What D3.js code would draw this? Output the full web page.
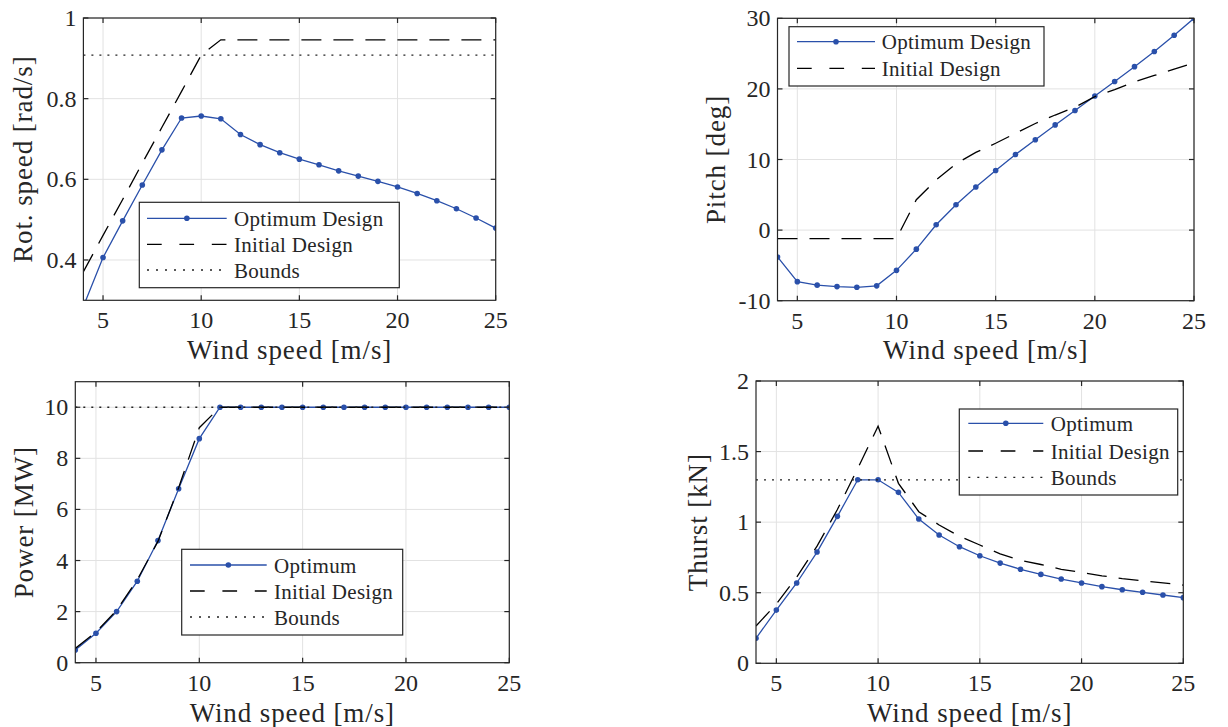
<!DOCTYPE html>
<html>
<head>
<meta charset="utf-8">
<script src="https://cdn.jsdelivr.net/npm/d3@7"></script>
<style>
  html, body { margin: 0; padding: 0; background: #ffffff; }
  svg { display: block; }
  text { font-family: "Liberation Serif"; }
</style>
</head>
<body>
<svg id="chart" width="1228" height="727"></svg>
<script>
// ---------------- data ----------------
const windSpeed = [4, 5, 6, 7, 8, 9, 10, 11, 12, 13, 14, 15, 16, 17, 18, 19, 20, 21, 22, 23, 24, 25];
const xTicks = [5, 10, 15, 20, 25];

const rotOptimum = [0.285, 0.406, 0.497, 0.586, 0.673, 0.752, 0.757, 0.750, 0.711, 0.686, 0.666, 0.650, 0.636, 0.621, 0.608, 0.595, 0.581, 0.565, 0.547, 0.527, 0.504, 0.479];
const rotInitial = [0.371, 0.461, 0.550, 0.640, 0.729, 0.818, 0.908, 0.946, 0.946, 0.946, 0.946, 0.946, 0.946, 0.946, 0.946, 0.946, 0.946, 0.946, 0.946, 0.946, 0.946, 0.946];
const rotBound = 0.908;
const rotTicks = [0.4, 0.6, 0.8, 1];

const pitchOptimum = [-3.8, -7.3, -7.8, -8.0, -8.1, -7.9, -5.7, -2.7, 0.75, 3.6, 6.1, 8.45, 10.7, 12.8, 14.9, 16.95, 19.0, 21.05, 23.15, 25.3, 27.6, 30.0];
const pitchInitial = [-1.2, -1.2, -1.2, -1.2, -1.2, -1.2, -1.2, 4.3, 7.1, 9.4, 11.0, 12.3, 13.7, 15.1, 16.3, 17.4, 18.9, 19.9, 21.0, 21.9, 22.8, 23.7];
const pitchTicks = [-10, 0, 10, 20, 30];

const powerOptimum = [0.5, 1.15, 2.0, 3.19, 4.78, 6.81, 8.77, 10, 10, 10, 10, 10, 10, 10, 10, 10, 10, 10, 10, 10, 10, 10];
const powerInitial = [0.56, 1.2, 2.05, 3.25, 4.75, 6.85, 9.2, 10, 10, 10, 10, 10, 10, 10, 10, 10, 10, 10, 10, 10, 10, 10];
const powerBound = 10;
const powerTicks = [0, 2, 4, 6, 8, 10];

const thrustOptimum = [0.177, 0.377, 0.569, 0.788, 1.041, 1.30, 1.30, 1.211, 1.022, 0.909, 0.826, 0.762, 0.710, 0.666, 0.630, 0.597, 0.569, 0.543, 0.521, 0.503, 0.484, 0.465];
const thrustInitial = [0.264, 0.42, 0.61, 0.83, 1.09, 1.38, 1.68, 1.275, 1.074, 0.98, 0.90, 0.838, 0.775, 0.73, 0.70, 0.666, 0.644, 0.62, 0.60, 0.585, 0.57, 0.554];
const thrustBound = 1.3;
const thrustTicks = [0, 0.5, 1, 1.5, 2];

// ---------------- style ----------------
const BLUE = "#2a50aa";
const INK = "#262626";
const GRID = "#e2e2e2";
const FONT = "Liberation Serif";

const svg = d3.select("#chart");
svg.append("rect").attr("width", 1228).attr("height", 727).attr("fill", "#fff");

function panel(cfg) {
  const g = svg.append("g");
  const x = d3.scaleLinear().domain([4, 25]).range([cfg.left, cfg.right]);
  const y = d3.scaleLinear().domain(cfg.yDomain).range([cfg.bottom, cfg.top]);
  const clipId = "clip" + cfg.id;
  svg.append("clipPath").attr("id", clipId).append("rect")
    .attr("x", cfg.left).attr("y", cfg.top)
    .attr("width", cfg.right - cfg.left).attr("height", cfg.bottom - cfg.top);

  // grid
  g.selectAll(".gx").data(xTicks).join("line")
    .attr("x1", d => x(d)).attr("x2", d => x(d))
    .attr("y1", cfg.top).attr("y2", cfg.bottom)
    .attr("stroke", GRID).attr("stroke-width", 1);
  g.selectAll(".gy").data(cfg.yTicks).join("line")
    .attr("x1", cfg.left).attr("x2", cfg.right)
    .attr("y1", d => y(d)).attr("y2", d => y(d))
    .attr("stroke", GRID).attr("stroke-width", 1);

  const plot = g.append("g").attr("clip-path", `url(#${clipId})`);
  const line = d3.line().x((d, i) => x(windSpeed[i])).y(d => y(d));

  plot.append("path").datum(cfg.optimum).attr("d", line)
    .attr("fill", "none").attr("stroke", BLUE).attr("stroke-width", 1.3);
  plot.selectAll(".dot").data(cfg.optimum).join("circle")
    .attr("cx", (d, i) => x(windSpeed[i])).attr("cy", d => y(d))
    .attr("r", 2.8).attr("fill", BLUE);
  plot.append("path").datum(cfg.initial).attr("d", line)
    .attr("fill", "none").attr("stroke", "#000").attr("stroke-width", 1.3)
    .attr("stroke-dasharray", "20 12");
  if (cfg.bound !== undefined) {
    plot.append("line")
      .attr("x1", x(4)).attr("x2", x(25))
      .attr("y1", y(cfg.bound)).attr("y2", y(cfg.bound))
      .attr("stroke", "#222").attr("stroke-width", 1.3)
      .attr("stroke-dasharray", "2 6");
  }

  g.append("rect").attr("x", cfg.left).attr("y", cfg.top)
    .attr("width", cfg.right - cfg.left).attr("height", cfg.bottom - cfg.top)
    .attr("fill", "none").attr("stroke", INK).attr("stroke-width", 1.2);

  const tl = 5;
  xTicks.forEach(t => {
    g.append("line").attr("x1", x(t)).attr("x2", x(t)).attr("y1", cfg.bottom).attr("y2", cfg.bottom - tl).attr("stroke", INK).attr("stroke-width", 1.2);
    g.append("line").attr("x1", x(t)).attr("x2", x(t)).attr("y1", cfg.top).attr("y2", cfg.top + tl).attr("stroke", INK).attr("stroke-width", 1.2);
  });
  cfg.yTicks.forEach(t => {
    g.append("line").attr("x1", cfg.left).attr("x2", cfg.left + tl).attr("y1", y(t)).attr("y2", y(t)).attr("stroke", INK).attr("stroke-width", 1.2);
    g.append("line").attr("x1", cfg.right).attr("x2", cfg.right - tl).attr("y1", y(t)).attr("y2", y(t)).attr("stroke", INK).attr("stroke-width", 1.2);
  });

  g.selectAll(".xl").data(xTicks).join("text")
    .attr("x", d => x(d)).attr("y", cfg.bottom + 28)
    .attr("text-anchor", "middle")
    .style("font-family", FONT).style("font-size", "24px").attr("fill", INK)
    .text(d => d);
  g.selectAll(".yl").data(cfg.yTicks).join("text")
    .attr("x", cfg.left - 7).attr("y", d => y(d) + 8)
    .attr("text-anchor", "end")
    .style("font-family", FONT).style("font-size", "24px").attr("fill", INK)
    .text(d => String(d));

  g.append("text")
    .attr("x", (cfg.left + cfg.right) / 2).attr("y", cfg.xLabelY)
    .attr("text-anchor", "middle")
    .style("font-family", FONT).style("font-size", "27px").style("letter-spacing", "0.9px").attr("fill", INK)
    .text("Wind speed [m/s]");
  g.append("text")
    .attr("transform", `translate(${cfg.yLabelX},${(cfg.top + cfg.bottom) / 2}) rotate(-90)`)
    .attr("text-anchor", "middle")
    .style("font-family", FONT).style("font-size", "27px").style("letter-spacing", "0.9px").attr("fill", INK)
    .text(cfg.yLabel);

  const L = cfg.legend;
  const lg = g.append("g");
  lg.append("rect").attr("x", L.x0).attr("y", L.y0)
    .attr("width", L.x1 - L.x0).attr("height", L.y1 - L.y0)
    .attr("fill", "#fff").attr("stroke", INK).attr("stroke-width", 1.2);
  L.items.forEach((name, i) => {
    const ry = L.rows[i];
    const ln = lg.append("line").attr("x1", L.s0).attr("x2", L.s1).attr("y1", ry).attr("y2", ry);
    if (i === 0) {
      ln.attr("stroke", BLUE).attr("stroke-width", 1.3);
      lg.append("circle").attr("cx", (L.s0 + L.s1) / 2).attr("cy", ry).attr("r", 2.8).attr("fill", BLUE);
    } else if (i === 1) {
      ln.attr("stroke", "#000").attr("stroke-width", 1.3).attr("stroke-dasharray", "14.7 17.7");
    } else {
      ln.attr("stroke", "#222").attr("stroke-width", 1.3).attr("stroke-dasharray", "2 7");
    }
    lg.append("text").attr("x", L.tx).attr("y", ry + 7.5)
      .style("font-family", FONT).style("font-size", "21px").style("letter-spacing", "0.3px").attr("fill", INK)
      .text(name);
  });
}

panel({
  id: 1, left: 83.4, right: 495.7, top: 18, bottom: 300.3,
  yDomain: [0.3, 1], yTicks: rotTicks,
  optimum: rotOptimum, initial: rotInitial, bound: rotBound,
  xLabelY: 358.5, yLabelX: 31.7, yLabel: "Rot. speed [rad/s]",
  legend: { x0: 139.3, x1: 399.3, y0: 202.3, y1: 287.7, s0: 147, s1: 226.7, tx: 234,
            rows: [218.3, 244.3, 270], items: ["Optimum Design", "Initial Design", "Bounds"] }
});

panel({
  id: 2, left: 777.5, right: 1194, top: 18.3, bottom: 300.7,
  yDomain: [-10, 30], yTicks: pitchTicks,
  optimum: pitchOptimum, initial: pitchInitial,
  xLabelY: 358.5, yLabelX: 725, yLabel: "Pitch [deg]",
  legend: { x0: 789, x1: 1044, y0: 26.7, y1: 86, s0: 797, s1: 875, tx: 881.7,
            rows: [41.7, 68.3], items: ["Optimum Design", "Initial Design"] }
});

panel({
  id: 3, left: 75.3, right: 509.3, top: 381.7, bottom: 662.7,
  yDomain: [0, 11], yTicks: powerTicks,
  optimum: powerOptimum, initial: powerInitial, bound: powerBound,
  xLabelY: 722, yLabelX: 32.7, yLabel: "Power [MW]",
  legend: { x0: 181.7, x1: 402.7, y0: 549.3, y1: 635, s0: 190, s1: 266.7, tx: 274,
            rows: [565, 591, 617], items: ["Optimum", "Initial Design", "Bounds"] }
});

panel({
  id: 4, left: 756, right: 1183.3, top: 381, bottom: 663.3,
  yDomain: [0, 2], yTicks: thrustTicks,
  optimum: thrustOptimum, initial: thrustInitial, bound: thrustBound,
  xLabelY: 722, yLabelX: 706.5, yLabel: "Thurst [kN]",
  legend: { x0: 959.3, x1: 1177.7, y0: 409, y1: 495, s0: 968.3, s1: 1043.3, tx: 1050.7,
            rows: [423.3, 451, 477.3], items: ["Optimum", "Initial Design", "Bounds"] }
});
</script>
</body>
</html>
